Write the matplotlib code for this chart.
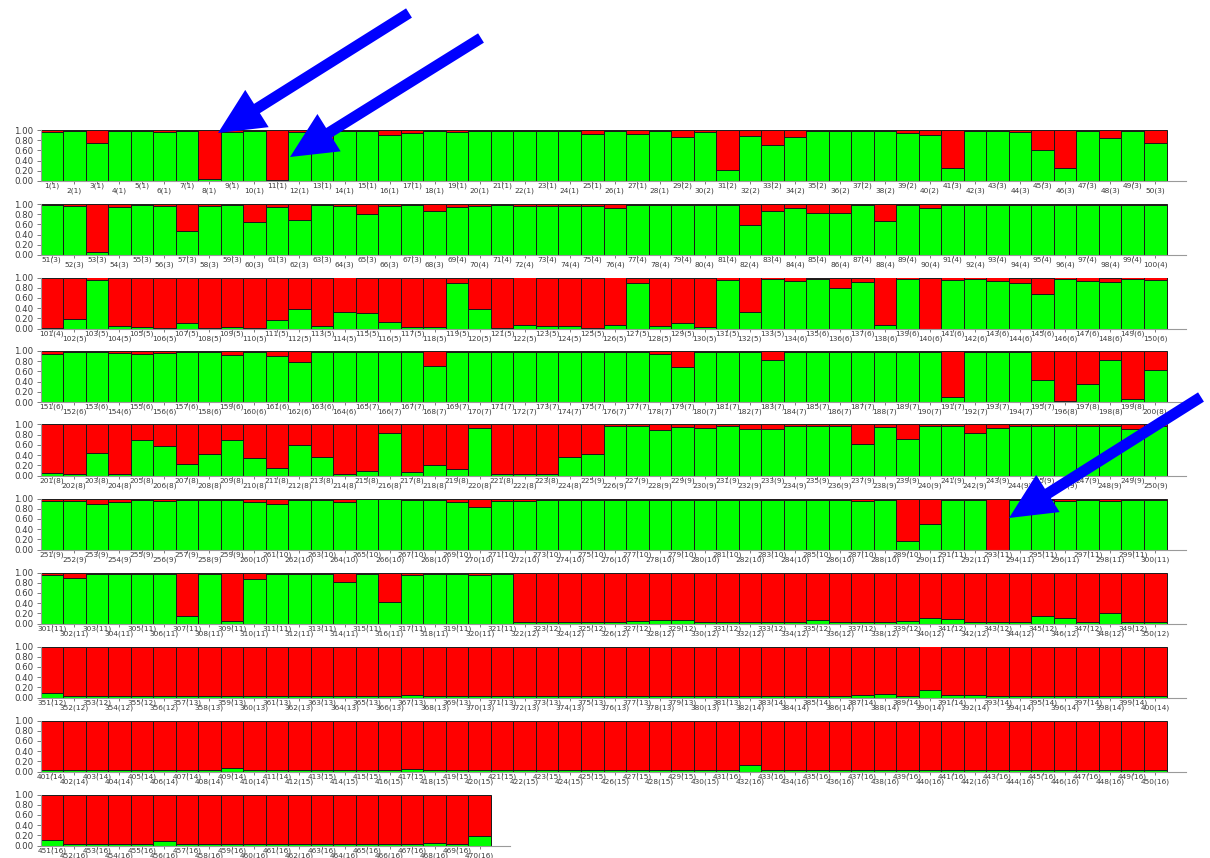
import matplotlib
matplotlib.use("Agg")
import matplotlib.pyplot as plt
from matplotlib.patches import FancyArrow
import numpy as np

# Estimated membership in cluster 1 (green); cluster 2 (red) is the remainder.
q_green_001_050 = [0.97, 0.98, 0.75, 0.98, 0.98, 0.96, 0.98, 0.03, 0.97, 0.98,
                   0.01, 0.96, 0.78, 0.98, 0.98, 0.90, 0.94, 0.98, 0.96, 0.98,
                   0.98, 0.99, 0.99, 0.98, 0.92, 0.98, 0.92, 0.98, 0.86, 0.97,
                   0.22, 0.89, 0.71, 0.87, 0.98, 0.98, 0.98, 0.99, 0.95, 0.91,
                   0.26, 0.99, 0.98, 0.97, 0.61, 0.26, 0.98, 0.84, 0.98, 0.75]
q_green_051_100 = [0.98, 0.96, 0.05, 0.95, 0.98, 0.97, 0.48, 0.97, 0.98, 0.64,
                   0.95, 0.68, 0.98, 0.96, 0.81, 0.96, 0.98, 0.86, 0.95, 0.96,
                   0.98, 0.97, 0.97, 0.97, 0.97, 0.92, 0.98, 0.98, 0.98, 0.98,
                   0.98, 0.58, 0.86, 0.93, 0.82, 0.82, 0.98, 0.67, 0.98, 0.93,
                   0.98, 0.98, 0.99, 0.98, 0.98, 0.98, 0.99, 0.98, 0.98, 0.98]
q_green_101_150 = [0.01, 0.18, 0.96, 0.05, 0.03, 0.01, 0.10, 0.01, 0.03, 0.01,
                   0.16, 0.39, 0.05, 0.33, 0.30, 0.13, 0.02, 0.02, 0.90, 0.38,
                   0.01, 0.07, 0.05, 0.05, 0.01, 0.07, 0.90, 0.04, 0.10, 0.03,
                   0.96, 0.32, 0.97, 0.94, 0.98, 0.80, 0.91, 0.07, 0.97, 0.00,
                   0.95, 0.97, 0.94, 0.90, 0.67, 0.97, 0.94, 0.92, 0.97, 0.96]
q_green_151_200 = [0.95, 0.98, 0.98, 0.97, 0.95, 0.97, 0.98, 0.98, 0.92, 0.98,
                   0.91, 0.78, 0.98, 0.98, 0.98, 0.98, 0.98, 0.71, 0.98, 0.98,
                   0.98, 0.98, 0.98, 0.98, 0.98, 0.98, 0.98, 0.95, 0.68, 0.98,
                   0.98, 0.98, 0.82, 0.98, 0.98, 0.98, 0.98, 0.98, 0.98, 0.98,
                   0.09, 0.98, 0.98, 0.98, 0.44, 0.02, 0.36, 0.82, 0.06, 0.62]
q_green_201_250 = [0.05, 0.02, 0.44, 0.03, 0.69, 0.57, 0.23, 0.43, 0.70, 0.35,
                   0.14, 0.59, 0.37, 0.02, 0.08, 0.83, 0.06, 0.20, 0.12, 0.94,
                   0.02, 0.02, 0.02, 0.36, 0.42, 0.98, 0.98, 0.90, 0.96, 0.93,
                   0.97, 0.92, 0.92, 0.98, 0.98, 0.98, 0.61, 0.96, 0.71, 0.98,
                   0.98, 0.84, 0.93, 0.98, 0.98, 0.98, 0.98, 0.98, 0.91, 0.98]
q_green_251_300 = [0.96, 0.96, 0.90, 0.94, 0.97, 0.96, 0.97, 0.97, 0.97, 0.94,
                   0.90, 0.97, 0.97, 0.94, 0.99, 0.99, 0.98, 0.97, 0.93, 0.83,
                   0.95, 0.96, 0.98, 0.98, 0.98, 0.98, 0.98, 0.98, 0.98, 0.98,
                   0.98, 0.98, 0.98, 0.98, 0.98, 0.98, 0.96, 0.98, 0.16, 0.50,
                   0.98, 0.98, 0.00, 0.98, 0.98, 0.96, 0.98, 0.96, 0.97, 0.97]
q_green_301_350 = [0.95, 0.90, 0.97, 0.97, 0.97, 0.97, 0.15, 0.97, 0.05, 0.88,
                   0.97, 0.97, 0.97, 0.82, 0.97, 0.42, 0.95, 0.97, 0.97, 0.95,
                   0.97, 0.02, 0.02, 0.02, 0.02, 0.03, 0.05, 0.06, 0.06, 0.02,
                   0.02, 0.02, 0.02, 0.02, 0.06, 0.02, 0.02, 0.02, 0.05, 0.10,
                   0.08, 0.02, 0.02, 0.02, 0.15, 0.10, 0.02, 0.20, 0.02, 0.02]
q_green_351_400 = [0.08, 0.02, 0.02, 0.02, 0.03, 0.02, 0.02, 0.02, 0.02, 0.02,
                   0.03, 0.02, 0.02, 0.02, 0.02, 0.02, 0.04, 0.02, 0.02, 0.02,
                   0.02, 0.02, 0.02, 0.02, 0.02, 0.02, 0.02, 0.02, 0.02, 0.02,
                   0.02, 0.02, 0.02, 0.02, 0.02, 0.02, 0.05, 0.06, 0.02, 0.15,
                   0.05, 0.04, 0.02, 0.02, 0.03, 0.03, 0.02, 0.02, 0.02, 0.02]
q_green_401_450 = [0.02, 0.02, 0.02, 0.02, 0.02, 0.02, 0.02, 0.02, 0.07, 0.02,
                   0.02, 0.02, 0.02, 0.02, 0.02, 0.02, 0.04, 0.02, 0.02, 0.02,
                   0.02, 0.02, 0.02, 0.02, 0.02, 0.02, 0.02, 0.02, 0.02, 0.02,
                   0.02, 0.12, 0.02, 0.02, 0.02, 0.02, 0.02, 0.02, 0.02, 0.02,
                   0.02, 0.02, 0.02, 0.02, 0.02, 0.02, 0.02, 0.02, 0.02, 0.02]
q_green_451_470 = [0.10, 0.02, 0.02, 0.02, 0.02, 0.08, 0.02, 0.02, 0.02, 0.02,
                   0.02, 0.02, 0.02, 0.02, 0.02, 0.02, 0.02, 0.04, 0.02, 0.18]

q_green_rows = [q_green_001_050, q_green_051_100, q_green_101_150, q_green_151_200,
                q_green_201_250, q_green_251_300, q_green_301_350, q_green_351_400,
                q_green_401_450, q_green_451_470]

# Last individual of each sampled population 1..16
pop_last = [28, 40, 68, 101, 133, 164, 195, 224, 259, 289, 321, 356, 381, 411, 430, 470]

y_ticks = [0.0, 0.2, 0.4, 0.6, 0.8, 1.0]

GREEN = "#00FF00"
RED = "#FF0000"
EDGE = "#1a1a1a"
TXT = "#3a3a3a"

W, H = 1210, 858
fig = plt.figure(figsize=(W / 100, H / 100), dpi=100)
fig.patch.set_facecolor("white")

row_top = [130, 204, 277.5, 351, 424.5, 498.5, 572.5, 646.5, 720.5, 794.5]
row_h = 51.0
x0 = 40.5
bar_w = 22.52


def pop_of(ind):
    for p, last in enumerate(pop_last, start=1):
        if ind <= last:
            return p
    return len(pop_last)


start = 1
for r, vals in enumerate(q_green_rows):
    g = np.array(vals)
    n = len(g)
    span = n + 0.85
    ax = fig.add_axes([x0 / W, 1 - (row_top[r] + row_h) / H, span * bar_w / W, row_h / H])
    idx = np.arange(n)
    ax.bar(idx, g, width=1.0, align="edge", color=GREEN, edgecolor=EDGE, linewidth=0.7)
    ax.bar(idx, 1 - g, bottom=g, width=1.0, align="edge", color=RED, edgecolor=EDGE, linewidth=0.7)
    ax.set_xlim(0, span)
    ax.set_ylim(0, 1)
    for s in ("top", "right"):
        ax.spines[s].set_visible(False)
    for s in ("left", "bottom"):
        ax.spines[s].set_color("#9a9a9a")
        ax.spines[s].set_linewidth(0.8)
    ax.set_yticks(y_ticks)
    ax.set_yticklabels([f"{t:.2f}" for t in y_ticks])
    ax.tick_params(axis="y", length=3, width=0.6, color="#666666", pad=2,
                   labelsize=6.2, labelcolor=TXT)
    ax.set_xticks(idx + 0.5)
    ax.set_xticklabels([])
    ax.tick_params(axis="x", length=2.5, width=0.6, color="#666666")
    for i in range(n):
        ind = start + i
        lab = f"{ind}({pop_of(ind)})"
        off = -3.5 if ind % 2 == 1 else -7.3
        ax.annotate(lab, xy=(i + 0.5, 0), xycoords=("data", "axes fraction"),
                    xytext=(0, off), textcoords="offset points",
                    ha="center", va="center", fontsize=5.3, color=TXT)
    start += n

# Blue arrows highlighting individual samples
over = fig.add_axes([0, 0, 1, 1], zorder=10)
over.set_xlim(0, W)
over.set_ylim(H, 0)
over.axis("off")
arrow_tails = [(409, 13), (481, 38), (1201, 397)]
arrow_tips = [(218, 133), (290, 157), (1009, 518)]
for (xt, yt), (xh, yh) in zip(arrow_tails, arrow_tips):
    over.add_patch(FancyArrow(xt, yt, xh - xt, yh - yt, width=11, head_width=44,
                              head_length=46, length_includes_head=True,
                              color="#0000FF", linewidth=0))

fig.savefig("out.png", dpi=100)
